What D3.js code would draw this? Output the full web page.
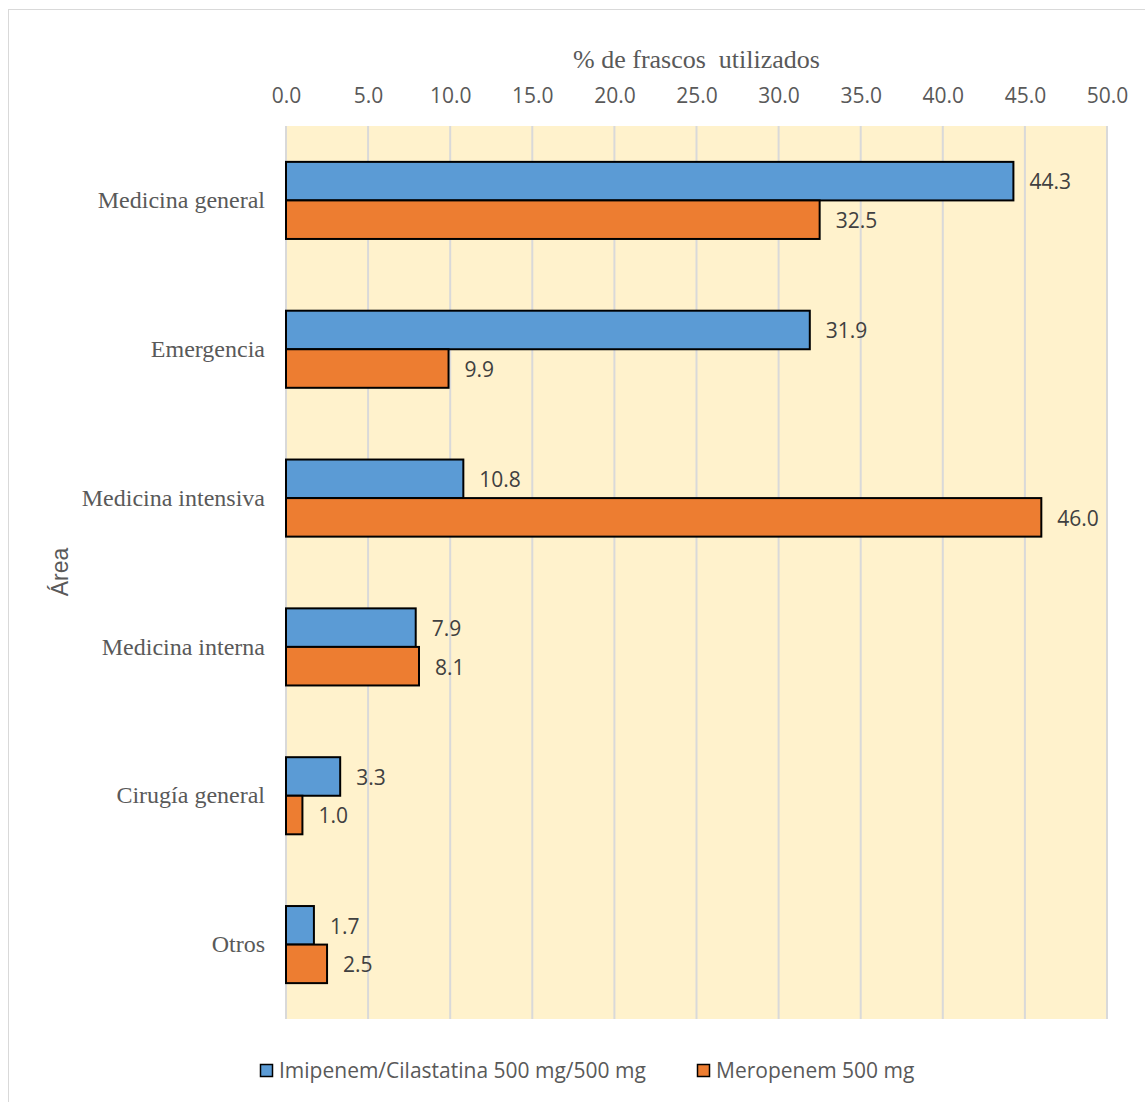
<!DOCTYPE html>
<html>
<head>
<meta charset="utf-8">
<script src="https://cdn.jsdelivr.net/npm/d3@7/dist/d3.min.js"></script>
<style>
  html, body { margin: 0; padding: 0; background: #fff; }
  svg { display: block; }
</style>
</head>
<body>
<svg id="chart" width="1145" height="1102"></svg>
<script>
const categories = ["Medicina general", "Emergencia", "Medicina intensiva", "Medicina interna", "Cirugía general", "Otros"];
const seriesNames = ["Imipenem/Cilastatina 500 mg/500 mg", "Meropenem 500 mg"];
const imipenem = [44.3, 31.9, 10.8, 7.9, 3.3, 1.7];
const meropenem = [32.5, 9.9, 46.0, 8.1, 1.0, 2.5];
const tickValues = [0, 5, 10, 15, 20, 25, 30, 35, 40, 45, 50];
const xTitle = "% de frascos  utilizados";
const yTitle = "Área";
const colors = ["#5B9BD5", "#ED7D31"];

const seriesValues = [imipenem, meropenem];
const svg = d3.select("#chart");

// outer border
svg.append("rect").attr("x", 8.5).attr("y", 9.5).attr("width", 1145).attr("height", 1100)
  .attr("fill", "#fff").attr("stroke", "#D9D9D9").attr("stroke-width", 1);

const plot = { left: 286, right: 1107, top: 126, bottom: 1019 };

const x = d3.scaleLinear().domain([0, 50]).range([plot.left, plot.right]);
const y = d3.scaleBand().domain(categories).range([plot.top, plot.bottom])
  .paddingInner(0.482).paddingOuter(0.241);
const ySub = d3.scaleBand().domain([0, 1]).range([0, y.bandwidth()]);

// plot background
svg.append("rect").attr("x", plot.left).attr("y", plot.top)
  .attr("width", plot.right - plot.left).attr("height", plot.bottom - plot.top)
  .attr("fill", "#FFF2CC");

// gridlines
svg.append("g").selectAll("line").data(tickValues).join("line")
  .attr("x1", d => x(d)).attr("x2", d => x(d))
  .attr("y1", plot.top).attr("y2", plot.bottom)
  .attr("stroke", "#D9D9D9").attr("stroke-width", 2);

// top axis labels
const xAxis = d3.axisTop(x).tickValues(tickValues).tickFormat(d3.format(".1f")).tickSize(0).tickPadding(0);
const gx = svg.append("g").attr("transform", `translate(0,${103})`).call(xAxis);
gx.select(".domain").remove();
gx.selectAll("text").attr("font-family", "'Open Sans', sans-serif").attr("font-size", 21)
  .attr("fill", "#595959").attr("dy", 0);

// x axis title
svg.append("text").attr("x", (plot.left + plot.right) / 2).attr("y", 68)
  .attr("text-anchor", "middle").attr("font-family", "'Liberation Serif', 'Times New Roman', serif")
  .attr("font-size", 26).attr("fill", "#595959").style("white-space", "pre").text(xTitle);

// category labels
const yAxis = d3.axisLeft(y).tickSize(0).tickPadding(21);
const gy = svg.append("g").attr("transform", `translate(${plot.left},0)`).call(yAxis);
gy.select(".domain").remove();
gy.selectAll("text").attr("font-family", "'Liberation Serif', 'Times New Roman', serif")
  .attr("font-size", 24).attr("fill", "#595959");

// y title
svg.append("text").attr("transform", `translate(68,572) rotate(-90)`)
  .attr("text-anchor", "middle").attr("font-family", "'Liberation Sans', Arial, sans-serif")
  .attr("font-size", 23).attr("fill", "#595959").text(yTitle);

// bars
const groups = svg.append("g").selectAll("g").data(categories).join("g")
  .attr("transform", d => `translate(0,${y(d)})`);
groups.selectAll("rect").data((d, i) => seriesValues.map((s, k) => ({ k, v: s[i] }))).join("rect")
  .attr("x", x(0)).attr("y", d => ySub(d.k))
  .attr("width", d => x(d.v) - x(0)).attr("height", ySub.bandwidth())
  .attr("fill", d => colors[d.k]).attr("stroke", "#000").attr("stroke-width", 2);
groups.selectAll("text").data((d, i) => seriesValues.map((s, k) => ({ k, v: s[i] }))).join("text")
  .attr("x", d => x(d.v) + 16).attr("y", d => ySub(d.k) + ySub.bandwidth() / 2 + 1)
  .attr("dy", "0.35em").attr("font-family", "'Open Sans', sans-serif").attr("font-size", 21)
  .attr("fill", "#404040").text(d => d3.format(".1f")(d.v));

// legend
const legendX = [260, 697];
const leg = svg.append("g").selectAll("g").data(seriesNames).join("g")
  .attr("transform", (d, i) => `translate(${legendX[i]},1064)`);
leg.append("rect").attr("x", 0.5).attr("y", 0.5).attr("width", 12).attr("height", 12)
  .attr("fill", (d, i) => colors[i]).attr("stroke", "#000").attr("stroke-width", 1.5);
leg.append("text").attr("x", 19).attr("y", 6.5).attr("dy", "0.35em")
  .attr("font-family", "'Open Sans', sans-serif").attr("font-size", 21).attr("fill", "#595959")
  .text(d => d);
</script>
</body>
</html>
